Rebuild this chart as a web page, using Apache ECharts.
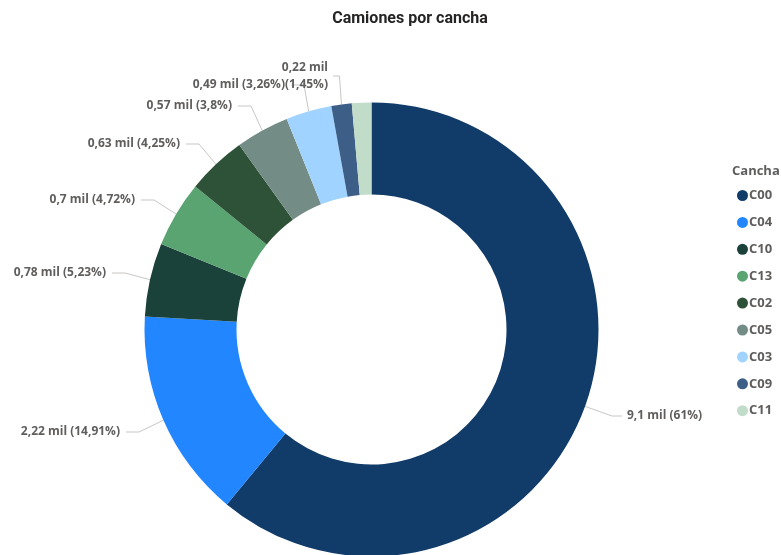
<!DOCTYPE html>
<html>
<head>
<meta charset="UTF-8">
<title>Camiones por cancha</title>
<style>
  html, body { margin: 0; padding: 0; background: #fff; }
  #main { width: 781px; height: 555px; }
</style>
<script src="https://cdn.jsdelivr.net/npm/echarts@6/dist/echarts.min.js"></script>
</head>
<body>
<div id="main"></div>
<script>
// datos (miles de camiones)
var canchas = ['C00', 'C04', 'C10', 'C13', 'C02', 'C05', 'C03', 'C09', 'C11'];
var camiones = [9.10, 2.224, 0.780, 0.704, 0.634, 0.567, 0.486, 0.216, 0.207];
var colores = ['#113b69', '#2186ff', '#1b413b', '#5aa472', '#2e5238', '#738c86', '#a0d3ff', '#3d5f87', '#c2dcca'];

// posicion de las etiquetas: [x, y, align]  (C11 sin etiqueta)
var posEtiquetas = [
  [627, 416, 'left'],
  [120, 432, 'right'],
  [106, 273, 'right'],
  [135, 200, 'right'],
  [180, 144, 'right'],
  [232, 106, 'right'],
  [285, 85, 'right'],
  [328, 76, 'right'],
  null
];

var total = camiones.reduce(function (a, b) { return a + b; }, 0);

function fmt(n, dec) {
  var s = n.toFixed(dec).replace(/\.?0+$/, '');
  return s.replace('.', ',');
}

var myChart = echarts.init(document.getElementById('main'));

var datos = canchas.map(function (c, i) {
  var d = { name: c, value: camiones[i], itemStyle: { color: colores[i] } };
  if (!posEtiquetas[i]) {
    d.label = { show: false };
    d.labelLine = { show: false };
  }
  return d;
});

var option = {
  animation: false,
  title: {
    text: 'Camiones por cancha',
    left: 405,
    top: 6,
    textAlign: 'center',
    textStyle: {
      fontFamily: 'Roboto',
      fontSize: 16,
      fontWeight: 'bold',
      color: '#252423'
    }
  },
  legend: {
    orient: 'vertical',
    left: 732,
    top: 184,
    itemWidth: 11,
    itemHeight: 11,
    itemGap: 13.9,
    icon: 'circle',
    textStyle: {
      fontFamily: 'Open Sans',
      fontSize: 13,
      fontWeight: 'bold',
      color: '#605e5c',
      padding: [0, 0, 0, -4]
    },
    data: canchas
  },
  graphic: [{
    type: 'text',
    left: 732,
    top: 165,
    style: {
      text: 'Cancha',
      font: 'bold 13px "Open Sans"',
      fill: '#605e5c'
    }
  }],
  series: [{
    type: 'pie',
    center: [371.5, 329.5],
    radius: [135, 227],
    startAngle: 90,
    clockwise: true,
    avoidLabelOverlap: false,
    label: {
      show: true,
      position: 'outside',
      fontFamily: 'Open Sans',
      fontSize: 12,
      fontWeight: 'bold',
      color: '#605e5c',
      lineHeight: 17,
      formatter: function (p) {
        var pct = fmt(p.value / total * 100, 2) + '%';
        var txt = fmt(p.value, 2) + ' mil';
        if (p.dataIndex === 7) return txt + '\n(' + pct + ')';
        return txt + ' (' + pct + ')';
      }
    },
    labelLine: {
      show: true,
      lineStyle: { color: '#c8c6c4', width: 1 }
    },
    labelLayout: function (p) {
      var pos = posEtiquetas[p.dataIndex];
      if (!pos) return {};
      var ini = p.labelLinePoints ? p.labelLinePoints[0] : [pos[0], pos[1]];
      var x = pos[0], y = pos[1], al = pos[2];
      var fin, codo;
      if (p.dataIndex === 7) {
        fin = [x + 5, y];
        codo = [ini[0] - 2, y];
      } else if (al === 'left') {
        fin = [x - 5, y];
        codo = [x - 15, y];
      } else {
        fin = [x + 6, y];
        codo = [x + 19, y];
      }
      return {
        x: x,
        y: y,
        align: al,
        verticalAlign: 'middle',
        labelLinePoints: [ini, codo, fin]
      };
    },
    data: datos
  }]
};

myChart.setOption(option);
</script>
</body>
</html>
